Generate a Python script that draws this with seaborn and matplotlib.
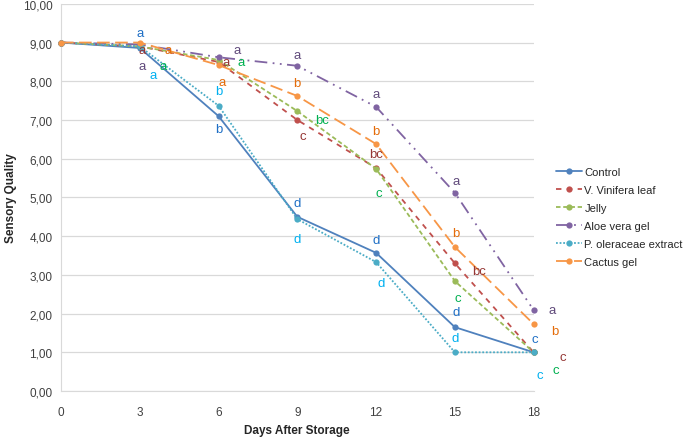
import pandas as pd
import seaborn as sns
import matplotlib.pyplot as plt
from matplotlib.ticker import FuncFormatter

# --- DATA ---
days = [0, 3, 6, 9, 12, 15, 18]
control = [9.0, 8.86, 7.1, 4.5, 3.57, 1.65, 1.0]
vinifera = [9.0, 8.9, 8.5, 7.0, 5.76, 3.3, 1.0]
jelly = [9.0, 8.9, 8.55, 7.23, 5.74, 2.84, 1.0]
aloe = [9.0, 8.95, 8.62, 8.4, 7.34, 5.12, 2.09]
oleraceae = [9.0, 8.9, 7.37, 4.44, 3.33, 1.0, 1.0]
cactus = [9.0, 9.0, 8.42, 7.62, 6.38, 3.72, 1.73]

series = {
    "Control": control,
    "V. Vinifera leaf": vinifera,
    "Jelly": jelly,
    "Aloe vera gel": aloe,
    "P. oleraceae extract": oleraceae,
    "Cactus gel": cactus,
}
line_colors = {
    "Control": "#4F81BD",
    "V. Vinifera leaf": "#C0504D",
    "Jelly": "#9BBB59",
    "Aloe vera gel": "#8064A2",
    "P. oleraceae extract": "#4BACC6",
    "Cactus gel": "#F79646",
}
line_styles = {
    "Control": "-",
    "V. Vinifera leaf": (0, (3, 3)),
    "Jelly": (0, (2.5, 1.5)),
    "Aloe vera gel": (0, (7, 3, 1, 3, 1, 3)),
    "P. oleraceae extract": (0, (1, 1)),
    "Cactus gel": (0, (7, 3)),
}
letter_colors = {
    "Control": "#1F6FC5",
    "V. Vinifera leaf": "#953735",
    "Jelly": "#00B050",
    "Aloe vera gel": "#604A7B",
    "P. oleraceae extract": "#00B0F0",
    "Cactus gel": "#E46C0A",
}

# significance letters: (series, label, x, y) in data units
letters = [
    ("Control", "a", 3.0, 9.25), ("V. Vinifera leaf", "a", 3.1, 8.8),
    ("Aloe vera gel", "a", 3.1, 8.4), ("Jelly", "a", 3.9, 8.4),
    ("P. oleraceae extract", "a", 3.5, 8.17), ("Cactus gel", "a", 4.1, 8.8),
    ("Aloe vera gel", "a", 6.7, 8.8), ("V. Vinifera leaf", "a", 6.3, 8.5),
    ("Jelly", "a", 6.85, 8.5), ("Cactus gel", "a", 6.15, 7.98),
    ("P. oleraceae extract", "b", 6.0, 7.75), ("Control", "b", 6.0, 6.77),
    ("Aloe vera gel", "a", 9.0, 8.68), ("Cactus gel", "b", 8.98, 7.95),
    ("Jelly", "bc", 9.93, 7.0), ("V. Vinifera leaf", "c", 9.2, 6.58),
    ("Control", "d", 9.0, 4.85), ("P. oleraceae extract", "d", 9.0, 3.92),
    ("Aloe vera gel", "a", 12.02, 7.67), ("Cactus gel", "b", 11.99, 6.72),
    ("V. Vinifera leaf", "bc", 12.02, 6.12), ("Jelly", "c", 12.1, 5.12),
    ("Control", "d", 11.99, 3.9), ("P. oleraceae extract", "d", 12.18, 2.8),
    ("Aloe vera gel", "a", 15.03, 5.43), ("Cactus gel", "b", 15.03, 4.08),
    ("V. Vinifera leaf", "bc", 15.91, 3.1), ("Jelly", "c", 15.11, 2.4),
    ("Control", "d", 15.07, 2.04), ("P. oleraceae extract", "d", 15.03, 1.37),
    ("Aloe vera gel", "a", 18.72, 2.09), ("Cactus gel", "b", 18.8, 1.55),
    ("Control", "c", 18.04, 1.35), ("V. Vinifera leaf", "c", 19.1, 0.88),
    ("Jelly", "c", 18.84, 0.55), ("P. oleraceae extract", "c", 18.23, 0.42),
]

rows = []
for name, vals in series.items():
    for d, v in zip(days, vals):
        rows.append({"Days": d, "Quality": v, "Treatment": name})
df = pd.DataFrame(rows)

sns.set_style("white")
plt.rcParams["font.family"] = ["Liberation Sans", "DejaVu Sans"]

fig = plt.figure(figsize=(6.85, 4.39), dpi=100)
ax = fig.add_axes([0.089, 0.107, 0.69, 0.882])

for name in series:
    sub = df[df["Treatment"] == name]
    sns.lineplot(data=sub, x="Days", y="Quality", ax=ax, color=line_colors[name],
                 linestyle=line_styles[name], marker="o", markersize=4.5,
                 markeredgewidth=0, linewidth=1.3, label=name, clip_on=False,
                 zorder=3)

for name, lab, x, y in letters:
    ax.text(x, y, lab, color=letter_colors[name], fontsize=9.5, ha="center",
            va="center", clip_on=False, zorder=4)

ax.set_xlim(0, 18)
ax.set_ylim(0, 10)
ax.set_xticks(days)
ax.set_yticks(range(0, 11))
ax.yaxis.set_major_formatter(FuncFormatter(lambda v, p: f"{v:.2f}".replace(".", ",")))
ax.grid(axis="y", color="#D9D9D9", linewidth=0.9)
ax.grid(axis="x", visible=False)
for s in ["top", "right"]:
    ax.spines[s].set_visible(False)
for s in ["left", "bottom"]:
    ax.spines[s].set_color("#D9D9D9")
ax.tick_params(axis="both", labelsize=8.5, colors="#404040", length=0)
ax.tick_params(axis="x", pad=11)
ax.tick_params(axis="y", pad=6)
ax.set_xlabel("Days After Storage", fontsize=8.5, fontweight="bold", labelpad=4)
ax.set_ylabel("Sensory Quality", fontsize=8.5, fontweight="bold", labelpad=4)

handles, labels = ax.get_legend_handles_labels()
ax.legend(handles, labels, loc="upper left", bbox_to_anchor=(0.811, 0.618),
          bbox_transform=fig.transFigure, frameon=False, fontsize=8,
          handlelength=2.4, handletextpad=0.2, labelspacing=0.72,
          borderaxespad=0, borderpad=0)

fig.savefig("out.png", dpi=100)
